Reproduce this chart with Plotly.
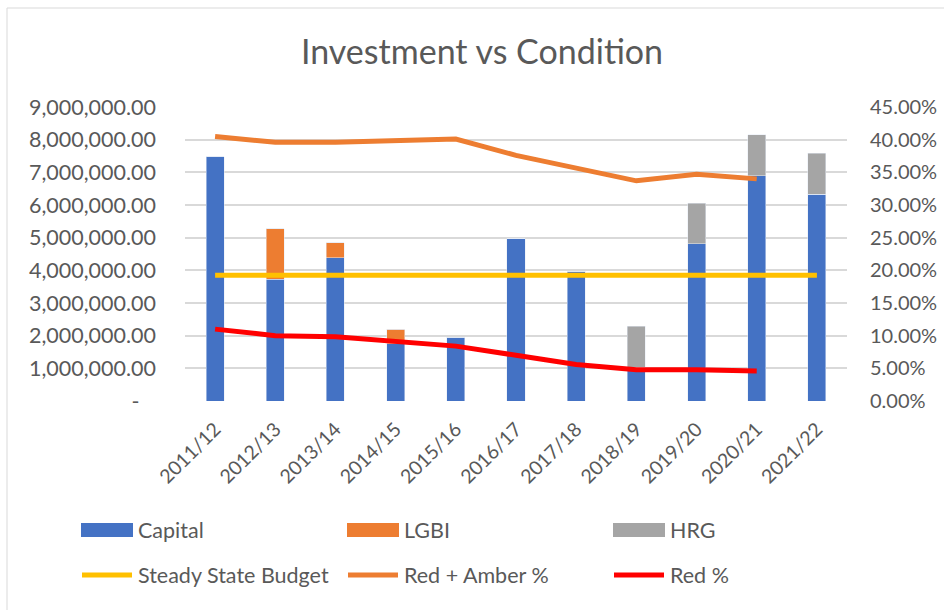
import plotly.graph_objects as go

years = ["2011/12", "2012/13", "2013/14", "2014/15", "2015/16", "2016/17",
         "2017/18", "2018/19", "2019/20", "2020/21", "2021/22"]
capital = [7470000, 3720000, 4380000, 1760000, 1950000, 4960000,
           3970000, 1040000, 4810000, 6890000, 6330000]
lgbi = [0, 1560000, 460000, 440000, 0, 0, 0, 0, 0, 0, 0]
hrg = [0, 0, 0, 0, 0, 0, 0, 1250000, 1250000, 1260000, 1250000]
steady_state = [3850000] * 11
red_amber = [0.405, 0.396, 0.396, 0.399, 0.401, 0.376, 0.356, 0.337, 0.347, 0.340, None]
red = [0.110, 0.100, 0.0985, 0.092, 0.084, 0.070, 0.056, 0.048, 0.048, 0.046, None]

left_ticks = [i * 1000000 for i in range(10)]
left_text = ["-\u00a0\u00a0\u00a0" if v == 0 else f"{v:,.2f}" for v in left_ticks]
right_ticks = [i * 0.05 for i in range(10)]

C_CAP, C_LGBI, C_HRG = "#4472C4", "#ED7D31", "#A5A5A5"
C_SS, C_RA, C_RED = "#FFC000", "#ED7D31", "#FF0000"
TXT = "#595959"
FONT = "Lato"
FS = 21.5

fig = go.Figure()
fig.add_bar(x=years, y=capital, name="Capital", marker_color=C_CAP)
fig.add_bar(x=years, y=lgbi, name="LGBI", marker_color=C_LGBI)
fig.add_bar(x=years, y=hrg, name="HRG", marker_color=C_HRG)
fig.add_scatter(x=years, y=steady_state, name="Steady State Budget", mode="lines",
                line=dict(color=C_SS, width=5))
fig.add_scatter(x=years, y=red_amber, name="Red + Amber %", mode="lines", yaxis="y2",
                line=dict(color=C_RA, width=5))
fig.add_scatter(x=years, y=red, name="Red %", mode="lines", yaxis="y2",
                line=dict(color=C_RED, width=5))

# plot area in pixels
L, T, W, H = 185, 107, 662, 294
def px(x):
    return (x - L) / W
def py(y):
    return (T + H - y) / H

shapes = [dict(type="rect", xref="paper", yref="paper",
               x0=px(7), x1=px(1000), y0=py(700), y1=py(8),
               line=dict(color="#D9D9D9", width=1), fillcolor="rgba(0,0,0,0)", layer="below")]
annotations = []

legend_items = [
    ("Capital", C_CAP, "bar"), ("LGBI", C_LGBI, "bar"), ("HRG", C_HRG, "bar"),
    ("Steady State Budget", C_SS, "line"), ("Red + Amber %", C_RA, "line"), ("Red %", C_RED, "line"),
]
col_x = [81, 347, 613]
row_y = [530, 575]
for i, (name, color, kind) in enumerate(legend_items):
    cx = col_x[i % 3]
    cy = row_y[i // 3]
    if kind == "bar":
        shapes.append(dict(type="rect", xref="paper", yref="paper",
                           x0=px(cx), x1=px(cx + 52), y0=py(cy + 7), y1=py(cy - 7),
                           fillcolor=color, line=dict(width=0)))
    else:
        shapes.append(dict(type="line", xref="paper", yref="paper",
                           x0=px(cx + 1), x1=px(cx + 51), y0=py(cy), y1=py(cy),
                           line=dict(color=color, width=5)))
    annotations.append(dict(xref="paper", yref="paper", x=px(cx + 55), y=py(cy),
                            text=name, showarrow=False, xanchor="left", yanchor="middle",
                            font=dict(family=FONT, size=FS, color=TXT)))

fig.update_layout(
    width=944, height=610,
    margin=dict(l=L, r=944 - L - W, t=T, b=610 - T - H, pad=0, autoexpand=False),
    paper_bgcolor="white", plot_bgcolor="white",
    barmode="stack", bargap=0.7,
    showlegend=False,
    title=dict(text="Investment vs Condition", x=482 / 944, xanchor="center", xref="container",
               y=1 - 52 / 610, yanchor="middle",
               font=dict(family=FONT, size=34, color=TXT)),
    font=dict(family=FONT, size=FS, color=TXT),
    xaxis=dict(tickangle=-45, showgrid=False, showline=False, ticks="",
               ticklabelstandoff=12, automargin=False,
               tickfont=dict(family=FONT, size=19.5, color=TXT)),
    yaxis=dict(range=[0, 9000000], tickvals=left_ticks, ticktext=left_text,
               showgrid=True, gridcolor="#D9D9D9", gridwidth=1.5, zeroline=False,
               ticks="", ticklabelstandoff=28, automargin=False,
               tickfont=dict(family=FONT, size=FS, color=TXT)),
    yaxis2=dict(range=[0, 0.45], tickvals=right_ticks, tickformat=".2%",
                overlaying="y", side="right", showgrid=False, zeroline=False,
                ticks="", ticklabelstandoff=22, automargin=False,
                tickfont=dict(family=FONT, size=20, color=TXT)),
    shapes=shapes, annotations=annotations,
)

fig.write_html("out.html", config={"displayModeBar": False},
               post_script="document.body.style.margin='0';")
